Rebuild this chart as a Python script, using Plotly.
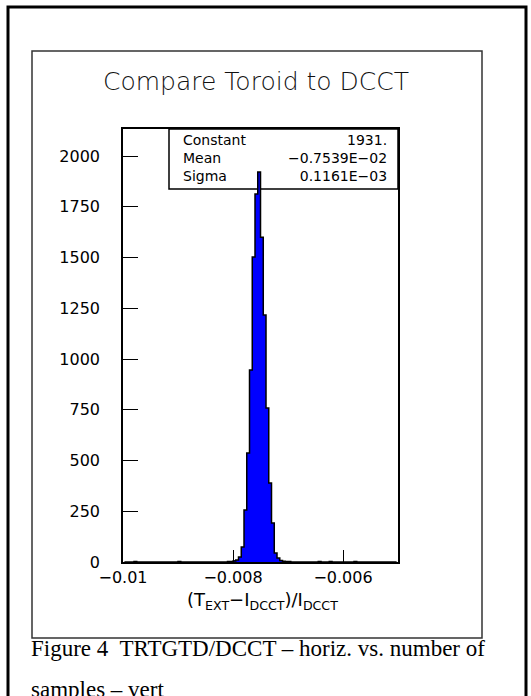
import numpy as np
import plotly.graph_objects as go

# ---- histogram binning (as in the original histogram) ----
x_min, x_max, n_bins = -0.01, -0.005, 100

# counts per bin, bin index -> count
bin_counts = {
    4: 2, 20: 3, 38: 2, 39: 3, 40: 5, 41: 10, 42: 25, 43: 74, 44: 256,
    45: 537, 46: 946, 47: 1502, 48: 1813, 49: 1921, 50: 1600, 51: 1217,
    52: 759, 53: 389, 54: 192, 55: 44, 56: 20, 57: 8, 58: 4, 59: 3,
    60: 2, 71: 3, 75: 2, 84: 2,
}

y_tick_vals = [0, 250, 500, 750, 1000, 1250, 1500, 1750, 2000]
y_tick_text = ["0", "250", "500", "750", "1000", "1250", "1500", "1750", "2000"]
x_tick_vals = [-0.01, -0.008, -0.006]
x_tick_text = ["\u22120.01", "\u22120.008", "\u22120.006"]

stat_names = ["Constant", "Mean", "Sigma"]
stat_values = ["1931.", "\u22120.7539E\u221202", "0.1161E\u221203"]

title_text = "Compare Toroid to DCCT"
x_title = "(T<sub>EXT</sub>\u2212I<sub>DCCT</sub>)/I<sub>DCCT</sub>"
caption_1 = "Figure 4  TRTGTD/DCCT \u2013 horiz. vs. number of"
caption_2 = "samples \u2013 vert"

bin_w = (x_max - x_min) / n_bins
centers = x_min + bin_w * (np.arange(n_bins) + 0.5)
counts = np.array([bin_counts.get(k, 0) for k in range(n_bins)])

W, H = 531, 696
def px(x):
    return x / W
def py(y):
    return 1 - y / H

fig = go.Figure()
fig.add_trace(go.Bar(x=centers, y=counts, width=bin_w,
                     marker=dict(color="#0000FF", line=dict(width=0)),
                     showlegend=False, hoverinfo="skip"))
fig.add_trace(go.Scatter(x=centers, y=counts, mode="lines",
                         line=dict(color="black", width=1.5, shape="hvh"),
                         showlegend=False, hoverinfo="skip"))

tick_font = dict(family="DejaVu Sans", size=16, color="black")

fig.update_layout(
    width=W, height=H,
    margin=dict(l=0, r=0, t=0, b=0, autoexpand=False),
    paper_bgcolor="white", plot_bgcolor="rgba(0,0,0,0)",
    bargap=0,
    xaxis=dict(domain=[px(123), px(398)], range=[x_min, x_max],
               tickvals=x_tick_vals, ticktext=x_tick_text,
               ticks="inside", ticklen=12, tickwidth=1.2, tickcolor="black",
               showline=True, linecolor="black", linewidth=1.5, mirror=True,
               showgrid=False, zeroline=False, tickfont=tick_font,
               automargin=False, ticklabelstandoff=0),
    yaxis=dict(domain=[py(562), py(129)], range=[0, 2133],
               tickvals=y_tick_vals, ticktext=y_tick_text,
               ticks="inside", ticklen=15, tickwidth=1.2, tickcolor="black",
               showline=True, linecolor="black", linewidth=1.5, mirror=True,
               showgrid=False, zeroline=False, tickfont=tick_font,
               automargin=False, ticklabelstandoff=18),
)

shapes = []
# outer thick frame
shapes.append(dict(type="rect", xref="paper", yref="paper",
                   x0=px(8), x1=px(526), y0=py(720), y1=py(7),
                   line=dict(color="black", width=3)))
# inner frame
shapes.append(dict(type="rect", xref="paper", yref="paper",
                   x0=px(32), x1=px(482), y0=py(638), y1=py(51),
                   line=dict(color="#333", width=1.5)))
# stats box
shapes.append(dict(type="rect", xref="paper", yref="paper", layer="below",
                   x0=px(169), x1=px(398), y0=py(189), y1=py(129),
                   fillcolor="white", line=dict(color="black", width=1.5)))
fig.update_layout(shapes=shapes)

ann = []
ann.append(dict(text=title_text, xref="paper", yref="paper", x=px(256), y=py(81),
                xanchor="center", yanchor="middle", showarrow=False,
                font=dict(family="DejaVu Sans", size=25, color="#111", weight=200)))
ann.append(dict(text="<br>".join(stat_names), xref="paper", yref="paper",
                x=px(181), y=py(158), xanchor="left", yanchor="middle",
                align="left", showarrow=False,
                font=dict(family="DejaVu Sans", size=14, color="black")))
ann.append(dict(text="<br>".join(stat_values), xref="paper", yref="paper",
                x=px(389), y=py(158), xanchor="right", yanchor="middle",
                align="right", showarrow=False,
                font=dict(family="DejaVu Sans", size=14, color="black")))
ann.append(dict(text=x_title, xref="paper", yref="paper", x=px(262), y=py(601),
                xanchor="center", yanchor="middle", showarrow=False,
                font=dict(family="DejaVu Sans", size=18, color="black")))
ann.append(dict(text=caption_1, xref="paper", yref="paper", x=px(29), y=py(648),
                xanchor="left", yanchor="middle", showarrow=False,
                font=dict(family="Liberation Serif", size=23, color="black")))
ann.append(dict(text=caption_2, xref="paper", yref="paper", x=px(29), y=py(689),
                xanchor="left", yanchor="middle", showarrow=False,
                font=dict(family="Liberation Serif", size=23, color="black")))
fig.update_layout(annotations=ann)

fig.write_html("out.html", config={"displayModeBar": False},
               post_script="document.body.style.margin='0';document.body.style.overflow='hidden';")
